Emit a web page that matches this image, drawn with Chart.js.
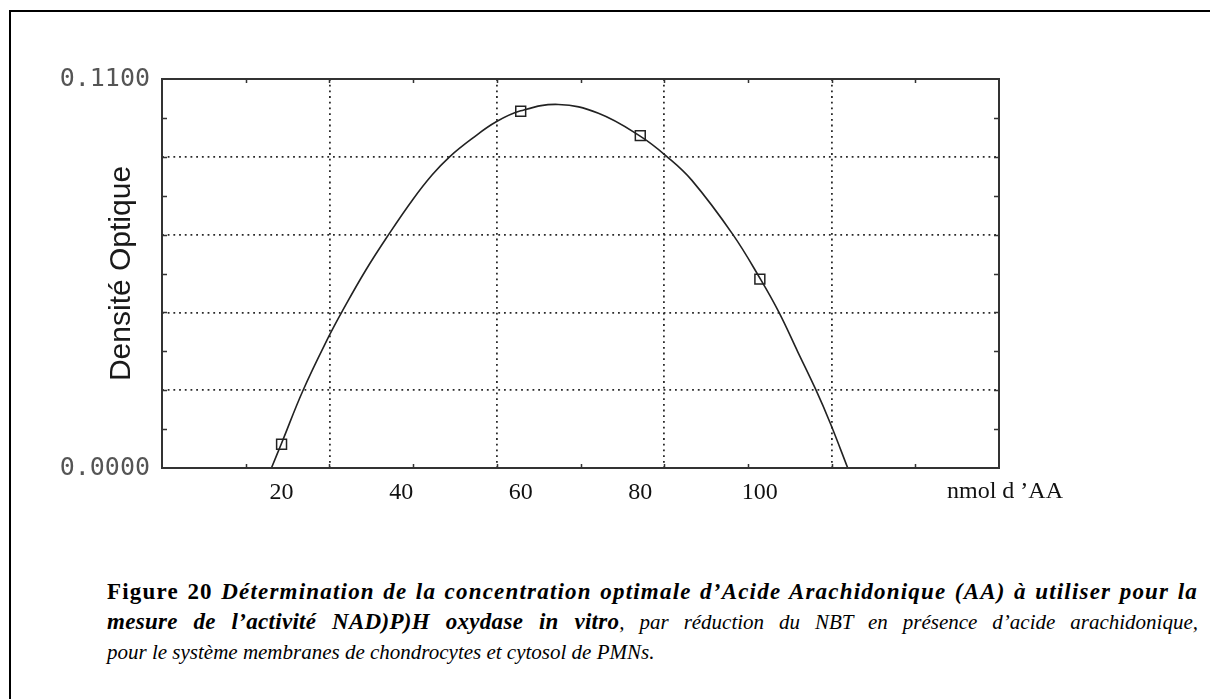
<!DOCTYPE html>
<html lang="fr">
<head>
<meta charset="UTF-8" />
<title>Figure 20 — Densité optique vs nmol d'AA</title>
<script src="https://cdn.jsdelivr.net/npm/chart.js@4.4.0/dist/chart.umd.min.js"></script>
<style>
  * { box-sizing: border-box; margin: 0; padding: 0; }
  html, body { width: 1210px; height: 699px; overflow: hidden; background: #fff; }
  .frame {
    position: absolute; left: 9px; top: 10px; width: 1210px; height: 700px;
    border-top: 2px solid #000; border-left: 2px solid #000;
  }
  .chart-box { position: absolute; left: 0; top: 0; width: 1210px; height: 520px; }
  .x-title {
    position: absolute; left: 947px; top: 477px;
    font: 24px "Liberation Serif", "Times New Roman", serif; color: #111; white-space: nowrap;
  }
  .caption {
    position: absolute; left: 107px; top: 577px; width: 1091px;
    font: 21px "Liberation Serif", "Times New Roman", serif; color: #000;
  }
  .caption div { height: 30px; line-height: 30px; text-align: justify; text-align-last: justify; }
  .caption div.last { text-align-last: left; }
  .caption b { font-size: 23px; letter-spacing: 1.2px; }
  .caption b.tight { letter-spacing: 0.3px; }
</style>
</head>
<body>
<div class="frame"></div>
<div class="chart-box"><canvas id="chart" width="1210" height="520"></canvas></div>
<div class="x-title">nmol d ’AA</div>
<div class="caption">
  <div><b>Figure 20 <i>Détermination de la concentration optimale d’Acide Arachidonique (AA) à utiliser pour la</i></b></div>
  <div><b class="tight"><i>mesure de l’activité NAD)P)H oxydase in vitro</i></b><i>, par réduction du NBT en présence d’acide arachidonique,</i></div>
  <div class="last"><i>pour le système membranes de chondrocytes et cytosol de PMNs.</i></div>
</div>

<script>
// fitted curve (nmol AA -> optical density)
const curveX = [18.3, 20.0, 23.6, 27.9, 30.2, 34.1, 37.9, 41.9, 45.2, 48.1, 51.9, 55.9, 60.0, 66.3, 73.0, 80.1, 84.5, 88.6, 95.5, 100.1, 103.2, 106.3, 109.4, 111.8, 114.7];
const curveY = [0, 0.0070, 0.022, 0.0372, 0.0445, 0.056, 0.066, 0.0758, 0.0829, 0.088, 0.0932, 0.0979, 0.1010, 0.1028, 0.1003, 0.0937, 0.088, 0.0814, 0.066, 0.0534, 0.044, 0.0330, 0.022, 0.0126, 0];

// measured points (open squares)
const pointX = [20, 60, 80, 100];
const pointY = [0.0067, 0.1009, 0.0940, 0.0534];

// axes
const xMin = 0, xMax = 140, xGridStep = 14;
const xTickValues = [20, 40, 60, 80, 100];
const yMin = 0, yMax = 0.11, yStep = 0.011;
const yTickLabels = ['0.0000', '0.1100'];

const INK = '#222';

const toXY = (xs, ys) => xs.map((x, i) => ({ x, y: ys[i] }));

// plot frame plus the small inward tick marks of the original
const frameTicks = {
  id: 'frameTicks',
  afterDraw(chart) {
    const { ctx, chartArea: a, scales } = chart;
    ctx.save();
    ctx.strokeStyle = '#333';
    ctx.lineWidth = 2;
    ctx.strokeRect(a.left, a.top, a.width, a.height);
    ctx.lineWidth = 1.5;
    ctx.beginPath();
    scales.x.ticks.forEach((t, i) => {
      if (i === 0 || i === scales.x.ticks.length - 1) return;
      const px = Math.round(scales.x.getPixelForTick(i)) + 0.5;
      ctx.moveTo(px, a.bottom); ctx.lineTo(px, a.bottom - 4);
      ctx.moveTo(px, a.top); ctx.lineTo(px, a.top + 4);
    });
    scales.y.ticks.forEach((t, i) => {
      if (i === 0 || i === scales.y.ticks.length - 1) return;
      const py = Math.round(scales.y.getPixelForTick(i)) + 0.5;
      ctx.moveTo(a.left, py); ctx.lineTo(a.left + 5, py);
      ctx.moveTo(a.right, py); ctx.lineTo(a.right - 5, py);
    });
    ctx.stroke();
    ctx.restore();
  }
};

const majorGrid = (ctx, count) =>
  (ctx.index > 0 && ctx.index < count && ctx.index % 2 === 0) ? '#2a2a2a' : 'rgba(0,0,0,0)';

new Chart(document.getElementById('chart'), {
  data: {
    datasets: [
      {
        type: 'line',
        label: 'Ajustement',
        data: toXY(curveX, curveY),
        borderColor: INK,
        borderWidth: 1.6,
        pointRadius: 0,
        tension: 0.4,
        fill: false,
      },
      {
        type: 'scatter',
        label: 'Mesures',
        data: toXY(pointX, pointY),
        pointStyle: 'rect',
        pointRadius: 7,
        pointBorderWidth: 1.5,
        borderColor: INK,
        backgroundColor: 'rgba(0,0,0,0)',
      },
    ],
  },
  options: {
    responsive: false,
    animation: false,
    layout: { padding: { left: 0, top: 79, right: 211, bottom: 0 } },
    plugins: { legend: { display: false }, tooltip: { enabled: false } },
    scales: {
      x: {
        type: 'linear', position: 'bottom', min: xMin, max: xMax,
        ticks: { display: false, stepSize: xGridStep },
        grid: { drawTicks: false, lineWidth: 1.8, color: ctx => majorGrid(ctx, 10) },
        border: { display: false, dash: [1.8, 3.9] },
        afterFit: s => { s.height = 0; },
      },
      xl: {
        type: 'linear', position: 'bottom', min: xMin, max: xMax,
        afterBuildTicks: s => { s.ticks = xTickValues.map(v => ({ value: v })); },
        ticks: {
          padding: 10, color: '#111',
          font: { family: '"Liberation Serif", "Times New Roman", serif', size: 24 },
          callback: v => String(v),
        },
        grid: { display: false, drawTicks: false },
        border: { display: false },
        afterFit: s => { s.height = 52; },
      },
      y: {
        type: 'linear', position: 'left', min: yMin, max: yMax,
        ticks: {
          stepSize: yStep, padding: 12, color: '#555',
          font: { family: '"DejaVu Sans Mono", monospace', size: 25 },
          callback: (v, i, ticks) => i === 0 ? yTickLabels[0] : (i === ticks.length - 1 ? yTickLabels[1] : ''),
        },
        grid: { drawTicks: false, lineWidth: 1.8, color: ctx => majorGrid(ctx, 10) },
        border: { display: false, dash: [1.8, 3.9] },
        title: {
          display: true, text: 'Densité Optique', color: '#1a1a1a',
          font: { family: '"Liberation Sans", Arial, sans-serif', size: 30 },
          padding: { top: 104, bottom: 0 },
        },
        afterFit: s => { s.width = 162; },
      },
    },
  },
  plugins: [frameTicks],
});
</script>
</body>
</html>
